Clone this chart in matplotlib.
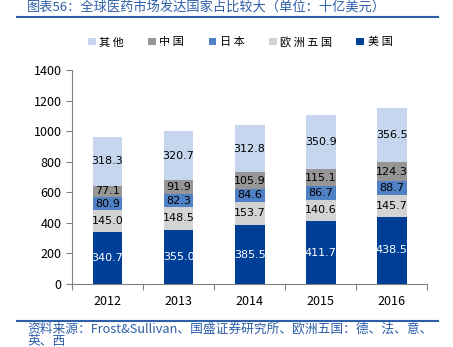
import numpy as np
import matplotlib.pyplot as plt

plt.rcParams['font.family'] = ['Noto Sans CJK SC', 'DejaVu Sans']

years = ["2012", "2013", "2014", "2015", "2016"]
usa = [340.7, 355.0, 385.5, 411.7, 438.5]
eu5 = [145.0, 148.5, 153.7, 140.6, 145.7]
japan = [80.9, 82.3, 84.6, 86.7, 88.7]
china = [77.1, 91.9, 105.9, 115.1, 124.3]
others = [318.3, 320.7, 312.8, 350.9, 356.5]

series = [
    ("美国", usa, "#003f98", "white"),
    ("欧洲五国", eu5, "#d3d3d3", "black"),
    ("日本", japan, "#4f81c4", "black"),
    ("中国", china, "#969696", "black"),
    ("其他", others, "#c5d6ee", "black"),
]

fig = plt.figure(figsize=(4.53, 3.47), dpi=100)
ax = fig.add_axes([0.159, 0.1816, 0.784, 0.6167])

x = np.arange(len(years))
bottom = np.zeros(len(years))
handles = {}
for name, vals, color, tcolor in series:
    bars = ax.bar(x, vals, 0.42, bottom=bottom, color=color, label=name, zorder=3)
    handles[name] = bars
    for xi, b, v in zip(x, bottom, vals):
        ax.text(xi, b + v / 2, f"{v:.1f}", ha="center", va="center",
                fontsize=8, color=tcolor, family="DejaVu Sans")
    bottom += np.array(vals)

ax.set_xlim(-0.5, len(years) - 0.5)
ax.set_ylim(0, 1400)
ax.set_yticks(range(0, 1401, 200))
# category boundaries get the tick marks, the year labels sit between them
ax.set_xticks(np.arange(len(years) + 1) - 0.5, minor=False)
ax.set_xticklabels([])
ax.set_xticks(x, minor=True)
ax.set_xticklabels(years, minor=True)
ax.tick_params(axis="x", which="minor", length=0, labelsize=9, pad=8)
ax.tick_params(axis="x", which="major", length=4, color="#808080")
ax.tick_params(axis="y", labelsize=9, length=4, color="#808080")
for s in ("top", "right"):
    ax.spines[s].set_visible(False)
for s in ("left", "bottom"):
    ax.spines[s].set_color("#808080")

order = ["其他", "中国", "日本", "欧洲五国", "美国"]
fig.legend([handles[n] for n in order], [" ".join(n) for n in order],
           loc="center", bbox_to_anchor=(0.53, 1 - 42 / 347), ncol=5,
           frameon=False, fontsize=8, handlelength=0.7, handleheight=0.7,
           handletextpad=0.3, columnspacing=2.2)

blue = "#2e5fa8"
fig.text(27 / 453, 1 - 7 / 347, "图表56：全球医药市场发达国家占比较大（单位：十亿美元）",
         fontsize=9.5, color=blue, va="center", ha="left")
fig.add_artist(plt.Line2D([17 / 453, 438 / 453], [1 - 17 / 347] * 2,
                          color=blue, lw=1.5))
fig.add_artist(plt.Line2D([17 / 453, 438 / 453], [1 - 321 / 347] * 2,
                          color=blue, lw=1.5))
fig.text(27 / 453, 1 - 329 / 347,
         "资料来源：Frost&Sullivan、国盛证券研究所、欧洲五国：德、法、意、",
         fontsize=9.2, color=blue, va="center", ha="left")
fig.text(27 / 453, 1 - 341 / 347, "英、西",
         fontsize=9.2, color=blue, va="center", ha="left")

fig.savefig("out.png", dpi=100)
